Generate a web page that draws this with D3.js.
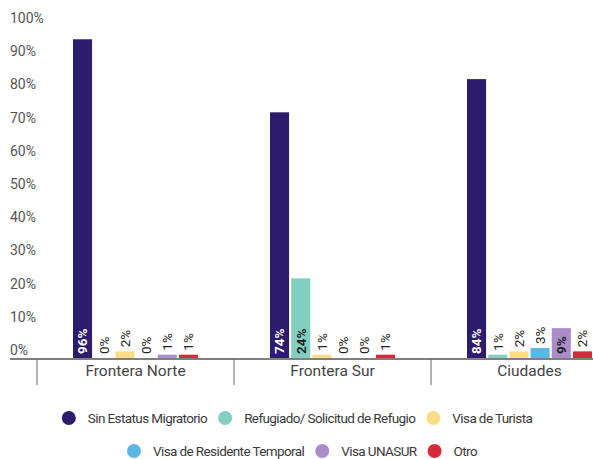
<!DOCTYPE html>
<html>
<head>
<meta charset="utf-8">
<script src="https://cdn.jsdelivr.net/npm/d3@7"></script>
<style>
  body { margin: 0; background: #fff; }
  svg { font-family: Roboto, "Noto Sans", sans-serif; }
</style>
</head>
<body>
<svg id="chart" width="593" height="459"></svg>
<script>
// data
var categories = ["Frontera Norte", "Frontera Sur", "Ciudades"];
var series = ["Sin Estatus Migratorio", "Refugiado/ Solicitud de Refugio", "Visa de Turista",
              "Visa de Residente Temporal", "Visa UNASUR", "Otro"];
var sinEstatus = [96, 74, 84];
var refugiado  = [0, 24, 1];
var turista    = [2, 1, 2];
var residente  = [0, 0, 3];
var unasur     = [1, 0, 9];
var otro       = [1, 1, 2];
var yTicks = [0, 10, 20, 30, 40, 50, 60, 70, 80, 90, 100];

var colors = ["#2d1b6e", "#82cfc2", "#fddc87", "#5bb8e6", "#a98cc9", "#d52a3a"];
var values = [sinEstatus, refugiado, turista, residente, unasur, otro];

var svg = d3.select("#chart");
var baseY = 358;
var bandW = 197;
var left = 37;

var y = d3.scaleLinear().domain([0, 100]).range([baseY, baseY - 332]);
var x0 = d3.scaleBand().domain(categories).range([left, left + bandW * categories.length]);
var x1 = d3.scaleBand().domain(series).range([36, 161]).paddingInner(0.1);
var color = d3.scaleOrdinal().domain(series).range(colors);

// y labels
svg.append("g").selectAll("text")
    .data(yTicks)
    .enter().append("text")
        .attr("x", 10)
        .attr("y", d => y(d) - 3)
        .style("font-size", "14px")
        .attr("fill", "#555")
        .text(d => d + "%");

// bars
var rows = [];
categories.forEach(function(c, i){
    series.forEach(function(s, j){
        rows.push({cat: c, ser: s, idx: j, value: values[j][i]});
    });
});

var groups = svg.append("g");
groups.selectAll("rect")
    .data(rows)
    .enter().append("rect")
        .attr("x", d => x0(d.cat) + x1(d.ser))
        .attr("y", d => y(d.value))
        .attr("width", x1.bandwidth())
        .attr("height", d => baseY - y(d.value))
        .attr("fill", d => color(d.ser));

// value labels
groups.selectAll("text")
    .data(rows)
    .enter().append("text")
        .each(function(d){
            var h = baseY - y(d.value);
            d.inside = h > 26;
            var cx = x0(d.cat) + x1(d.ser) + x1.bandwidth() / 2;
            var sy = d.inside ? baseY - 4 : y(d.value) - 4;
            d3.select(this)
                .attr("transform", "translate(" + cx + "," + sy + ") rotate(-90)");
        })
        .attr("dy", "0.36em")
        .style("font-size", "13.5px")
        .style("font-weight", d => d.inside ? "bold" : "normal")
        .attr("fill", d => d.inside && d.idx === 0 ? "#fff" : "#222")
        .text(d => d.value + "%");

// x axis
svg.append("line")
    .attr("x1", 10).attr("x2", 593)
    .attr("y1", baseY + 1).attr("y2", baseY + 1)
    .attr("stroke", "#555").attr("stroke-width", 1.5);

svg.append("g").selectAll("line")
    .data(categories)
    .enter().append("line")
        .attr("x1", d => x0(d)).attr("x2", d => x0(d))
        .attr("y1", baseY + 1).attr("y2", baseY + 27)
        .attr("stroke", "#666").attr("stroke-width", 1);

svg.append("g").selectAll("text")
    .data(categories)
    .enter().append("text")
        .attr("x", d => x0(d) + x0.bandwidth() / 2)
        .attr("y", baseY + 18)
        .style("text-anchor", "middle")
        .style("font-size", "15.5px")
        .attr("fill", "#444")
        .text(d => d);

// legend
var legendRows = [[0, 1, 2], [3, 4, 5]];
var legendY = [418, 451];
var legendCenter = [297, 302];
legendRows.forEach(function(r, k){
    var g = svg.append("g");
    var xPos = 0;
    r.forEach(function(j){
        g.append("circle")
            .attr("cx", xPos + 7).attr("cy", 0).attr("r", 7)
            .attr("fill", colors[j]);
        var t = g.append("text")
            .attr("x", xPos + 26).attr("y", 0).attr("dy", "0.35em")
            .style("font-size", "13.5px")
            .style("letter-spacing", "-0.6px")
            .attr("fill", "#3a3a3a")
            .text(series[j]);
        xPos += 26 + t.node().getComputedTextLength() + 11;
    });
    var total = xPos - 11;
    g.attr("transform", "translate(" + (legendCenter[k] - total / 2) + "," + legendY[k] + ")");
});
</script>
</body>
</html>
